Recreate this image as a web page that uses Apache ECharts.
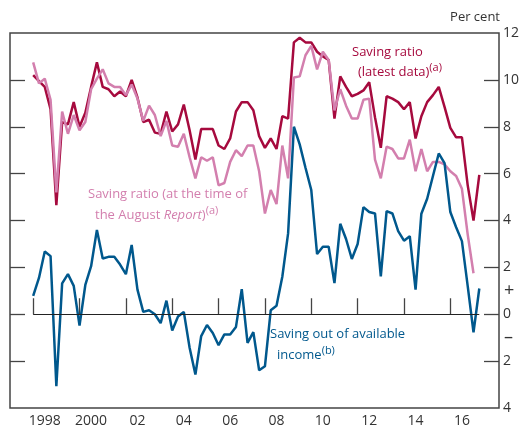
<!DOCTYPE html>
<html>
<head>
<meta charset="utf-8">
<script src="https://cdn.jsdelivr.net/npm/echarts@6/dist/echarts.min.js"></script>
<style>
html, body { margin: 0; padding: 0; background: #fff; }
#chart { width: 525px; height: 430px; }
</style>
</head>
<body>
<div id="chart"></div>
<script>
// quarterly data, first point = 1998 Q1
const startYear = 1998;

// Saving ratio (latest data)
const savingRatioLatest = [
    10.2, 9.95, 9.7, 8.75, 4.65, 8.2, 8.1, 9.05, 8.0, 8.6,
    9.7, 10.75, 9.7, 9.6, 9.3, 9.5, 9.3, 10.0, 9.25, 8.2,
    8.3, 7.75, 7.7, 8.65, 7.8, 8.1, 8.95, 7.85, 6.6, 7.9,
    7.9, 7.9, 7.2, 7.05, 7.5, 8.65, 9.05, 9.05, 8.7, 7.6,
    7.1, 7.5, 7.05, 8.45, 8.35, 11.6, 11.8, 11.6, 11.6, 11.2,
    11.0, 10.85, 8.35, 10.15, 9.7, 9.3, 9.4, 9.55, 9.9, 8.4,
    7.1, 9.3, 9.2, 9.05, 8.75, 9.05, 7.5, 8.45, 9.05, 9.35,
    9.7, 8.85, 7.95, 7.55, 7.55, 5.5, 4.0, 5.95
];
// Saving ratio (at the time of the August Report)
const savingRatioAugust = [
    10.75, 9.85, 10.05, 9.15, 5.2, 8.65, 7.7, 8.5, 7.85, 8.2,
    9.6, 10.05, 10.45, 9.85, 9.7, 9.7, 9.35, 9.8, 9.2, 8.25,
    8.9, 8.5, 7.6, 8.25, 7.2, 7.15, 7.7, 6.7, 5.8, 6.7,
    6.55, 6.7, 5.5, 5.6, 6.5, 7.0, 6.75, 7.2, 7.2, 6.1,
    4.3, 5.3, 4.7, 7.2, 5.8, 10.1, 10.15, 11.05, 11.45, 10.45,
    11.2, 10.85, 8.7, 9.6, 8.9, 8.35, 8.35, 9.15, 9.2, 6.6,
    5.8, 7.15, 7.05, 6.65, 6.65, 7.45, 6.1, 7.05, 6.1, 6.5,
    6.5, 6.4, 6.1, 5.9, 5.35, 3.4, 1.75
];
// Saving out of available income
const savingOutOfIncome = [
    0.78, 1.55, 2.68, 2.48, -3.07, 1.32, 1.71, 1.21, -0.48, 1.25,
    2.05, 3.6, 2.38, 2.45, 2.45, 2.12, 1.71, 2.96, 1.05, 0.1,
    0.17, 0.0, -0.38, 0.58, -0.69, -0.1, 0.1, -1.43, -2.57, -0.93,
    -0.46, -0.8, -1.32, -0.86, -0.86, -0.54, 1.07, -1.22, -0.76, -2.39,
    -2.22, 0.17, 0.36, 1.6, 3.45, 8.0, 7.25, 6.25, 5.3, 2.57,
    2.88, 2.88, 1.33, 3.86, 3.21, 2.36, 3.0, 4.57, 4.36, 4.3,
    1.62, 4.4, 4.3, 3.55, 3.14, 3.33, 1.05, 4.29, 4.93, 5.9,
    6.86, 6.45, 4.36, 3.71, 3.12, 1.2, -0.77, 1.1
];

const xTickYears = [1998, 2000, 2002, 2004, 2006, 2008, 2010, 2012, 2014, 2016];
const xTickLabels = ["1998", "2000", "02", "04", "06", "08", "10", "12", "14", "16"];
const yTickValues = [-2, 0, 2, 4, 6, 8, 10];
const yLabelValues = [-4, -2, -1, 0, 1, 2, 4, 6, 8, 10, 12];

const font = "Open Sans";
const red = "#a60a3e";
const pink = "#d37fae";
const blue = "#00588d";
const axisGrey = "#444";

function toPoints(arr) {
    return arr.map((v, i) => [startYear + i / 4, v]);
}

let chart = echarts.init(document.getElementById("chart"));

let lineSeries = (name, data, color) => ({
    name: name,
    type: "line",
    data: toPoints(data),
    showSymbol: false,
    symbol: "none",
    lineStyle: { color: color, width: 2.5 },
    itemStyle: { color: color },
});

let red1 = lineSeries("Saving ratio (latest data)", savingRatioLatest, red);
// zero line from first to last quarter
red1.markLine = {
    silent: true,
    symbol: "none",
    label: { show: false },
    lineStyle: { color: "#222", width: 1, type: "solid" },
    data: [[
        { coord: [startYear, 0] },
        { coord: [startYear + (savingRatioLatest.length - 1) / 4, 0] },
    ]],
};

let yAxisBase = {
    type: "value",
    min: -4,
    max: 12,
    axisLine: { show: false },
    splitLine: { show: false },
    axisTick: {
        show: true,
        inside: true,
        length: 15,
        customValues: yTickValues,
        lineStyle: { color: axisGrey, width: 1.3 },
    },
};

// superscript style for notes
let sup = (color) => ({ fontSize: 11, fontFamily: font, fill: color, verticalAlign: "top", lineHeight: 12 });

let option = {
    animation: false,
    backgroundColor: "#fff",
    textStyle: { fontFamily: font },
    grid: {
        show: true,
        left: 10,
        right: 26,
        top: 33,
        bottom: 22,
        borderColor: axisGrey,
        borderWidth: 1.5,
        backgroundColor: "transparent",
    },
    xAxis: {
        type: "value",
        min: 1997,
        max: 2018.1,
        axisLine: { show: false },
        splitLine: { show: false },
        axisTick: {
            show: true,
            inside: true,
            length: 16,
            customValues: xTickYears,
            lineStyle: { color: axisGrey, width: 1.3 },
        },
        axisLabel: {
            customValues: xTickYears.map((y) => y + 0.5),
            formatter: (v) => xTickLabels[xTickYears.indexOf(Math.round(v - 0.5))],
            color: "#333",
            fontSize: 14,
            fontFamily: font,
            margin: 6,
        },
    },
    yAxis: [
        Object.assign({}, yAxisBase, {
            position: "right",
            axisLabel: {
                customValues: yLabelValues,
                formatter: (v) => (v === -1 ? "{pm|–}" : v === 1 ? "{pm|+}" : String(Math.abs(v))),
                color: "#333",
                fontSize: 14,
                fontFamily: font,
                margin: 4,
                rich: { pm: { fontSize: 18, fontFamily: font, color: "#333", padding: [0, 0, 0, 1] } },
            },
        }),
        Object.assign({}, yAxisBase, {
            position: "left",
            axisLabel: { show: false },
        }),
    ],
    graphic: [
        {
            type: "text", right: 25, top: 11,
            style: { text: "Per cent", font: "13px " + font, fill: "#333" },
        },
        {
            type: "text", left: 352, top: 46,
            style: { text: "Saving ratio", font: "13px " + font, fill: red },
        },
        {
            type: "text", left: 358, top: 62,
            style: {
                text: "(latest data){sup|(a)}",
                font: "13px " + font, fill: red, lineHeight: 20,
                rich: { sup: sup(red) },
            },
        },
        {
            type: "text", left: 88, top: 188,
            style: { text: "Saving ratio (at the time of", font: "13px " + font, fill: pink },
        },
        {
            type: "text", left: 95, top: 205,
            style: {
                text: "the August {it|Report}){sup|(a)}",
                font: "13px " + font, fill: pink, lineHeight: 20,
                rich: {
                    it: { fontSize: 13, fontFamily: font, fontStyle: "italic", fill: pink },
                    sup: sup(pink),
                },
            },
        },
        {
            type: "text", left: 270, top: 328,
            style: { text: "Saving out of available", font: "13px " + font, fill: blue },
        },
        {
            type: "text", left: 277, top: 345,
            style: {
                text: "income{sup|(b)}",
                font: "13px " + font, fill: blue, lineHeight: 20,
                rich: { sup: sup(blue) },
            },
        },
    ],
    series: [
        red1,
        lineSeries("Saving ratio (at the time of the August Report)", savingRatioAugust, pink),
        lineSeries("Saving out of available income", savingOutOfIncome, blue),
    ],
};

chart.setOption(option);
</script>
</body>
</html>
